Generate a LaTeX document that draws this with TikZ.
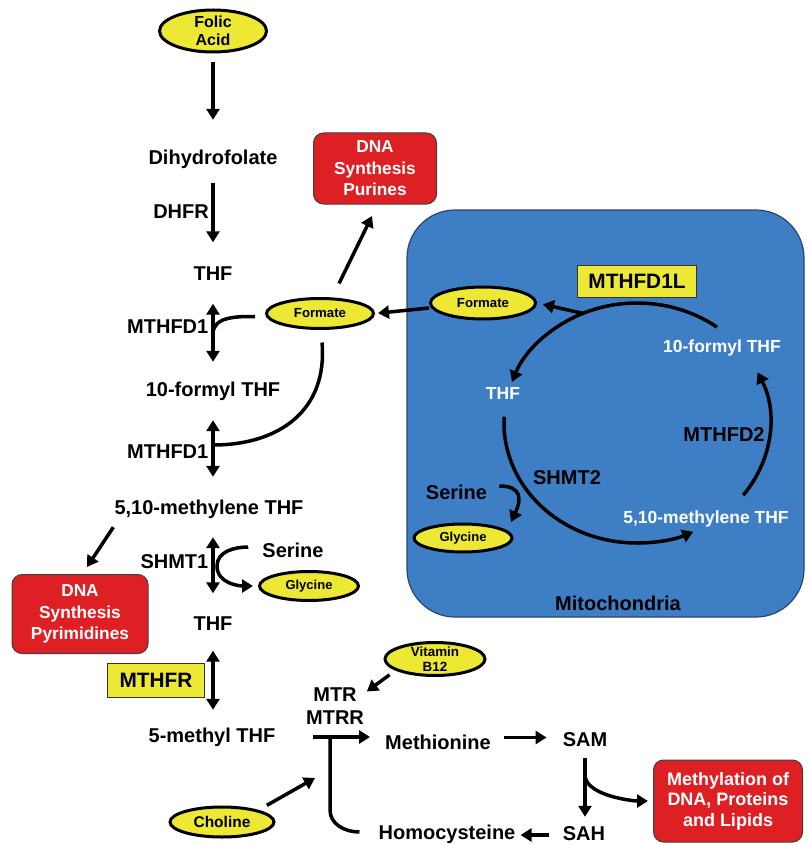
\documentclass[tikz,border=0pt]{standalone}
\usepackage{fontspec}
\setmainfont{Liberation Sans}
\usetikzlibrary{arrows.meta,shapes.geometric,calc}
\definecolor{yfill}{RGB}{236,232,52}
\definecolor{rfill}{RGB}{222,32,36}
\definecolor{mblue}{RGB}{62,126,196}
\definecolor{mborder}{RGB}{40,70,110}
\begin{document}
\begin{tikzpicture}[x=1pt,y=1pt,
  lbl/.style={inner sep=0pt, text height=14pt, text depth=4pt, font=\fontsize{20}{22}\selectfont\bfseries},
  wlbl/.style={inner sep=0pt, text height=12.5pt, text depth=3.5pt, font=\fontsize{17.5}{20}\selectfont\bfseries, text=white},
  oval/.style={ellipse, draw=black, line width=3pt, fill=yfill, inner sep=-3pt, align=center},
  redbox/.style={rectangle, rounded corners=10pt, draw=black!75, line width=1pt, fill=rfill, text=white, align=center, inner sep=0pt},
  ybox/.style={rectangle, draw=black!80, line width=1pt, fill=yfill, inner sep=0pt, font=\fontsize{20.8}{22}\selectfont\bfseries},
  arr/.style={line width=3.5pt, -{Triangle[length=11pt,width=13pt]}},
  darr/.style={line width=3.5pt, {Triangle[length=11pt,width=13pt]}-{Triangle[length=11pt,width=13pt]}},
  ln/.style={line width=3.5pt},
]
\useasboundingbox (0,0) rectangle (807,-845);
\fill[white] (0,0) rectangle (807,-845);

% ---------- Mitochondria ----------
\node[rectangle, rounded corners=48pt, fill=mblue, draw=mborder, line width=1.2pt,
      minimum width=397, minimum height=407] (mito) at (605.5,-413.5) {};
\node[lbl] (mitolbl) at (618,-605) {Mitochondria};
\node[oval, minimum width=105, minimum height=32, font=\fontsize{13.2}{14}\selectfont\bfseries] (fm) at (483,-303) {Formate};
\node[ybox, minimum width=119, minimum height=32] (mthfdl) at (637,-281) {MTHFD1L};
\node[wlbl] (thfm) at (503,-395) {THF};
\node[wlbl] (tenfm) at (722,-348) {10-formyl THF};
\node[wlbl] (mthm) at (706,-519) {5,10-methylene THF};
\node[lbl] (mthfdtwo) at (724,-436.5) {MTHFD2};
\node[lbl] (shmttwo) at (567,-479.5) {SHMT2};
\node[lbl] (sertwo) at (456.5,-494) {Serine};
\node[oval, minimum width=98, minimum height=28, font=\fontsize{13}{14}\selectfont\bfseries] (glytwo) at (463,-538) {Glycine};

\coordinate (cyc) at (637,-423);
\draw[arr] ($(cyc)+(53:133 and 120)$) arc[start angle=53, end angle=160, x radius=133, y radius=120];
\draw[arr] ($(cyc)+(177:133 and 120)$) arc[start angle=177, end angle=295, x radius=133, y radius=120];
\draw[arr] ($(cyc)+(323:133 and 120)$) arc[start angle=323, end angle=385, x radius=133, y radius=120];
\draw[arr, shorten >=6pt] ($(cyc)+(114:133 and 120)$) -- (fm.east);
\draw[arr] ([shift={(12pt,8pt)}]sertwo.east) to[out=0,in=65,looseness=1.6] ([shift={(48pt,16pt)}]glytwo.center);

% ---------- Main column ----------
\node[oval, minimum width=107, minimum height=42, font=\fontsize{16}{18}\selectfont\bfseries] (folic) at (213,-31) {Folic\\Acid};
\node[lbl] (dhf) at (213,-159.5) {Dihydrofolate};
\node[lbl, anchor=east] (dhfr) at (209,-213) {DHFR};
\node[lbl] (thfa) at (213,-275.5) {THF};
\node[redbox, minimum width=123, minimum height=71, font=\fontsize{17.3}{21.5}\selectfont\bfseries] (purines) at (375,-168.5) {DNA\\Synthesis\\Purines};
\node[oval, minimum width=107, minimum height=30, font=\fontsize{13.2}{14}\selectfont\bfseries] (fc) at (320,-313.5) {Formate};
\node[lbl, anchor=east] (mthfda) at (208.5,-328.5) {MTHFD1};
\node[lbl] (tenf) at (213,-391) {10-formyl THF};
\node[lbl, anchor=east] (mthfdb) at (208.5,-453.5) {MTHFD1};
\node[lbl] (mth) at (209,-509.5) {5,10-methylene THF};
\node[redbox, minimum width=136, minimum height=79, font=\fontsize{17.3}{21.5}\selectfont\bfseries] (pyr) at (80,-614) {DNA\\Synthesis\\Pyrimidines};
\node[lbl, anchor=east] (shmtone) at (208.5,-563) {SHMT1};
\node[lbl] (serone) at (293,-552) {Serine};
\node[oval, minimum width=99, minimum height=29, font=\fontsize{13}{14}\selectfont\bfseries] (glyone) at (309,-586) {Glycine};
\node[lbl] (thfb) at (213,-625.5) {THF};
\node[ybox, minimum width=97, minimum height=34] (mthfr) at (156,-680) {MTHFR};
\node[lbl] (mthf) at (212,-737.5) {5-methyl THF};

% ---------- Methionine cycle ----------
\node[lbl] (mtr) at (335,-696.5) {MTR};
\node[lbl] (mtrr) at (335,-719.5) {MTRR};
\node[oval, minimum width=100, minimum height=33, font=\fontsize{13.4}{15.5}\selectfont\bfseries] (vit) at (435,-659) {Vitamin\\B12};
\node[lbl] (meth) at (438,-744.5) {Methionine};
\node[lbl] (sam) at (585,-741) {SAM};
\node[redbox, minimum width=149, minimum height=82, font=\fontsize{18}{20.5}\selectfont\bfseries] (methyl) at (728,-801) {Methylation of\\DNA, Proteins\\and Lipids};
\node[lbl] (sah) at (584,-835) {SAH};
\node[lbl] (homo) at (447,-834) {Homocysteine};
\node[oval, minimum width=104, minimum height=30, font=\fontsize{15.5}{16}\selectfont\bfseries] (chol) at (222,-822) {Choline};

% ---------- connectors ----------
\draw[arr, shorten <=8.5pt, shorten >=30.5pt] (folic.south) -- (folic.south |- dhf.north);
\draw[arr, shorten <=14.5pt, shorten >=24pt] (dhf.south) -- (dhf.south |- thfa.north);
\draw[darr, shorten <=19pt, shorten >=20pt] (thfa.south) -- (thfa.south |- tenf.north);
\draw[darr, shorten <=20pt, shorten >=23.5pt] (tenf.south) -- (tenf.south |- mth.north);
\draw[darr, shorten <=18.5pt, shorten >=23pt] (tenf.south |- mth.south) -- (tenf.south |- thfb.north);
\draw[darr, shorten <=16pt, shorten >=18.5pt] (thfb.south) -- (thfb.south |- mthf.north);

\draw[arr] ([shift={(19pt,13.5pt)}]fc.north) -- ([shift={(-3pt,-11.5pt)}]purines.south);
\draw[arr, shorten >=3pt] ([yshift=-5pt]fm.west) -- (fc.east);
\coordinate (ja) at (213,-334);
\coordinate (jb) at (213,-445);
\draw[ln] ([shift={(-10pt,-3pt)}]fc.west) to[out=180,in=90] (ja);
\draw[ln] ([shift={(2pt,-12.5pt)}]fc.south) to[out=-85,in=0,looseness=1.15] (jb);

\draw[arr] ([shift={(-1pt,-8.5pt)}]mth.south west) -- ([shift={(7pt,7pt)}]pyr.north);
\draw[arr, shorten >=5pt] ([shift={(-14pt,5pt)}]serone.west) to[out=180,in=90] (217,-566) to[out=-90,in=180] (glyone.west);

\draw[arr] ([shift={(-9pt,-3pt)}]vit.south west) -- ([shift={(10pt,5pt)}]mtr.east);
\coordinate (tj) at (313,-737);
\coordinate (tjb) at (330,-737);
\draw[arr, shorten >=15pt] (tj) -- (tj -| meth.west);
\draw[ln] (tjb) -- ++(0,-73) to[out=-90,in=180] ([shift={(-19pt,2pt)}]homo.west);
\coordinate (cj) at (315,-778);
\draw[arr] ([shift={(7pt,5pt)}]chol.north east) -- (cj);

\draw[arr, shorten <=13pt, shorten >=16pt] ([yshift=7pt]meth.east) -- ([yshift=7pt]meth.east -| sam.west);
\draw[arr, shorten <=7.5pt, shorten >=9pt] (sam.south) -- (sam.south |- sah.north);
\draw[arr, shorten >=5pt] ($(sam.south)!0.35!(sam.south |- sah.north)$) to[out=-80,in=180,looseness=0.7] (methyl.west);
\draw[arr, shorten <=14pt, shorten >=5pt] (sah.west) -- (sah.west -| homo.east);
\end{tikzpicture}
\end{document}
